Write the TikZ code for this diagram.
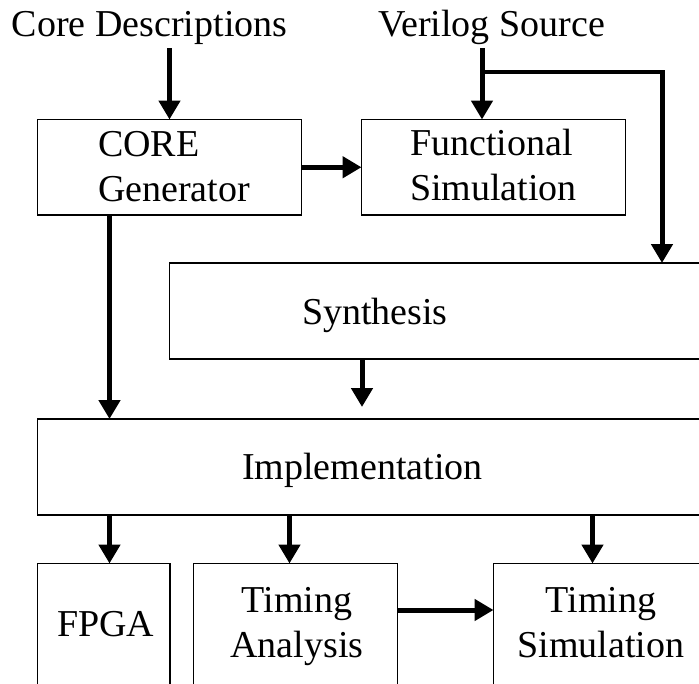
\documentclass[tikz,border=0pt]{standalone}
\usepackage{fontspec}
\setmainfont{Liberation Serif}
\usetikzlibrary{arrows.meta}

\tikzset{
  block/.style={draw, line width=1.3pt, inner sep=0pt, outer sep=0pt, anchor=north west},
  lbl/.style={inner sep=0pt, outer sep=0pt, font=\fontsize{38}{45}\selectfont},
  flow/.style={line width=5pt, -{Triangle[length=19pt,width=21pt]}},
  feed/.style={line width=4.5pt}
}

\begin{document}
\begin{tikzpicture}[x=1pt, y=-1pt]
  \useasboundingbox (0,0) rectangle (699,683);
  \clip (0,0) rectangle (699,683);

  % blocks (the right-hand and lower ones run past the frame)
  \node[block, minimum width=264pt, minimum height=95.5pt] (core)  at (37.5,119.5) {};
  \node[block, minimum width=264pt, minimum height=95.5pt] (func)  at (361.5,119.5) {};
  \node[block, minimum width=560pt, minimum height=96pt]   (synth) at (169.5,263) {};
  \node[block, minimum width=700pt, minimum height=96pt]   (impl)  at (37.5,419) {};
  \node[block, minimum width=132.5pt, minimum height=140pt] (fpga) at (37.5,563.5) {};
  \node[block, minimum width=204pt, minimum height=140pt]  (ta)    at (193.5,563.5) {};
  \node[block, minimum width=230pt, minimum height=140pt]  (ts)    at (493.5,563.5) {};

  % labels (for two-line labels the base anchor sits on the last line)
  \node[lbl, anchor=base west] (cd) at (12,36) {Core Descriptions};
  \node[lbl, anchor=base west] (vs) at (378,36) {Verilog Source};
  \node[lbl, anchor=base west, align=left] (coret) at (98,201) {CORE\\Generator};
  \node[lbl, anchor=base west, align=left] (funct) at (410,200) {Functional\\Simulation};
  \node[lbl, anchor=base west] (syntht) at (302,324) {Synthesis};
  \node[lbl, anchor=base west] (implt) at (242,479) {Implementation};
  \node[lbl, anchor=base west] (fpgat) at (57,636) {FPGA};
  \node[lbl, anchor=base, align=center] (tat) at (297,657) {Timing\\Analysis};
  \node[lbl, anchor=base, align=center] (tst) at (601,657) {Timing\\Simulation};

  % junction points of the connectors
  \coordinate (vtop)   at (482,48);
  \coordinate (vsplit) at (482,72);
  \coordinate (vright) at (662,72);
  \coordinate (cdown)  at (109.5,215);
  \coordinate (sdown)  at (362,359);
  \coordinate (send)   at (362,407);
  \coordinate (i1) at (109.5,515);
  \coordinate (i2) at (289.5,515);
  \coordinate (i3) at (592.5,515);
  \coordinate (tarow) at (397.5,610);

  % connectors
  \draw[flow] ([yshift=-12pt]cd.base -| core.north) -- (core.north);
  \draw[flow] (vtop) -- (vtop |- func.north);
  \draw[feed] (vsplit) -- (vright);
  \draw[flow] ([xshift=-2.25pt]vright) -- (vright) -- (vright |- synth.north);
  \draw[flow] (core.east) -- (func.west);
  \draw[flow] (cdown) -- (cdown |- impl.north);
  \draw[flow] (sdown) -- (send);
  \draw[flow] (i1) -- (i1 |- fpga.north);
  \draw[flow] (i2) -- (i2 |- ta.north);
  \draw[flow] (i3) -- (i3 |- ts.north);
  \draw[flow] (tarow) -- (tarow -| ts.west);
\end{tikzpicture}
\end{document}
